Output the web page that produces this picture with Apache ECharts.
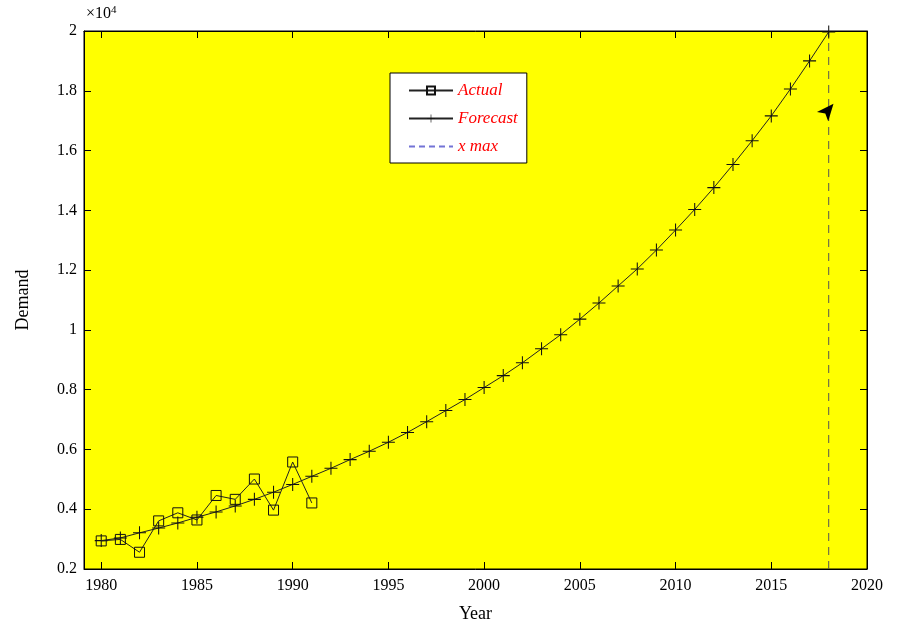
<!DOCTYPE html>
<html>
<head>
<meta charset="utf-8">
<script src="https://cdn.jsdelivr.net/npm/echarts@6/dist/echarts.min.js"></script>
<style>
  html, body { margin: 0; padding: 0; background: #ffffff; }
  #chart { width: 898px; height: 628px; }
</style>
</head>
<body>
<div id="chart"></div>
<script>
// Demand in units of 10^4
const actualYears = [1980, 1981, 1982, 1983, 1984, 1985, 1986, 1987, 1988, 1989, 1990, 1991];
const actualValues = [0.294, 0.299, 0.256, 0.361, 0.388, 0.364, 0.446, 0.433, 0.501, 0.397, 0.558, 0.421];

const forecastYears = [
  1980, 1981, 1982, 1983, 1984, 1985, 1986, 1987, 1988, 1989,
  1990, 1991, 1992, 1993, 1994, 1995, 1996, 1997, 1998, 1999,
  2000, 2001, 2002, 2003, 2004, 2005, 2006, 2007, 2008, 2009,
  2010, 2011, 2012, 2013, 2014, 2015, 2016, 2017, 2018
];
const forecastValues = [
  0.295, 0.304, 0.321, 0.337, 0.354, 0.373, 0.391, 0.411, 0.433, 0.457,
  0.483, 0.510, 0.537, 0.566, 0.594, 0.624, 0.657, 0.693, 0.730, 0.767,
  0.807, 0.847, 0.890, 0.937, 0.984, 1.036, 1.090, 1.147, 1.204, 1.267,
  1.334, 1.403, 1.476, 1.553, 1.633, 1.716, 1.806, 1.900, 1.997
];

const xMaxYear = 2018;
const xTickLabels = [1980, 1985, 1990, 1995, 2000, 2005, 2010, 2015, 2020];
const yRange = [0.2, 2];
// annotation arrow placed just left of the x max line
const arrowAt = [2018.25, 1.757];

const serif = '"Liberation Serif", "Times New Roman", serif';
const plusPath = 'path://M4.6,0H5.4V4.6H10V5.4H5.4V10H4.6V5.4H0V4.6H4.6Z';

const chart = echarts.init(document.getElementById('chart'), null, { renderer: 'canvas' });

const xCommon = {
  type: 'value',
  min: 1979.1,
  max: 2020,
  splitLine: { show: false },
  axisLine: { show: true, onZero: false, lineStyle: { color: '#000', width: 1 } }
};
const yCommon = {
  type: 'value',
  min: yRange[0],
  max: yRange[1],
  interval: 0.2,
  splitLine: { show: false },
  axisLine: { show: true, onZero: false, lineStyle: { color: '#000', width: 1 } }
};

chart.setOption({
  animation: false,
  backgroundColor: '#ffffff',
  grid: {
    left: 84, right: 31, top: 31, bottom: 57,
    show: true,
    backgroundColor: '#ffff00',
    borderColor: '#000',
    borderWidth: 1
  },
  legend: {
    left: 390, top: 73,
    orient: 'vertical',
    backgroundColor: '#ffffff',
    borderColor: '#000',
    borderWidth: 1,
    borderRadius: 0,
    padding: [9, 9, 8, 18],
    itemWidth: 44,
    itemHeight: 10,
    itemGap: 11,
    textStyle: { color: '#ff0000', fontStyle: 'italic', fontFamily: serif, fontSize: 17 },
    data: [
      { name: 'Actual' },
      { name: 'Forecast' },
      { name: 'x max', itemStyle: { opacity: 0 }, lineStyle: { color: '#7373d6', type: [6, 4] } }
    ]
  },
  xAxis: [
    Object.assign({}, xCommon, {
      position: 'bottom',
      name: 'Year',
      nameLocation: 'middle',
      nameGap: 36,
      nameTextStyle: { color: '#000', fontFamily: serif, fontSize: 18 },
      axisTick: { show: true, inside: true, length: 7, customValues: xTickLabels, lineStyle: { color: '#000' } },
      axisLabel: {
        show: true, customValues: xTickLabels, margin: 9, color: '#000', fontFamily: serif, fontSize: 16,
        formatter: (v) => String(Math.round(v))
      }
    }),
    Object.assign({}, xCommon, {
      position: 'top',
      axisTick: { show: true, inside: true, length: 7, customValues: xTickLabels, lineStyle: { color: '#000' } },
      axisLabel: { show: false }
    })
  ],
  yAxis: [
    Object.assign({}, yCommon, {
      position: 'left',
      name: 'Demand',
      nameLocation: 'middle',
      nameGap: 52,
      nameTextStyle: { color: '#000', fontFamily: serif, fontSize: 18 },
      axisTick: { show: true, inside: true, length: 7, lineStyle: { color: '#000' } },
      axisLabel: { show: true, margin: 7, color: '#000', fontFamily: serif, fontSize: 16 }
    }),
    Object.assign({}, yCommon, {
      position: 'right',
      axisTick: { show: true, inside: true, length: 7, lineStyle: { color: '#000' } },
      axisLabel: { show: false }
    })
  ],
  graphic: [
    {
      type: 'text',
      left: 86, top: 5,
      style: {
        text: '×10{sup|4}',
        fill: '#000',
        font: '16px ' + serif,
        rich: { sup: { fontSize: 11, verticalAlign: 'top', padding: [0, 0, 7, 0], fontFamily: serif } }
      }
    }
  ],
  series: [
    {
      name: 'Actual',
      type: 'line',
      data: actualYears.map((y, i) => [y, actualValues[i]]),
      symbol: 'rect',
      symbolSize: 10,
      showAllSymbol: true,
      lineStyle: { color: '#222', width: 1 },
      itemStyle: { color: 'rgba(255,255,0,0)', borderColor: '#111', borderWidth: 1 },
      z: 3
    },
    {
      name: 'Forecast',
      type: 'line',
      data: forecastYears.map((y, i) => [y, forecastValues[i]]),
      symbol: plusPath,
      symbolSize: 13,
      showAllSymbol: true,
      lineStyle: { color: '#222', width: 1 },
      itemStyle: { color: '#111' },
      z: 2,
      markPoint: {
        silent: true,
        symbol: 'arrow',
        symbolSize: [11, 17],
        symbolRotate: -40,
        itemStyle: { color: '#000' },
        label: { show: false },
        data: [{ coord: arrowAt }]
      }
    },
    {
      name: 'x max',
      type: 'line',
      data: [[xMaxYear, yRange[0]], [xMaxYear, yRange[1]]],
      symbol: 'none',
      lineStyle: { color: '#555', width: 1, type: [8, 6] },
      itemStyle: { color: '#7373d6' },
      z: 1
    }
  ]
});
</script>
</body>
</html>
